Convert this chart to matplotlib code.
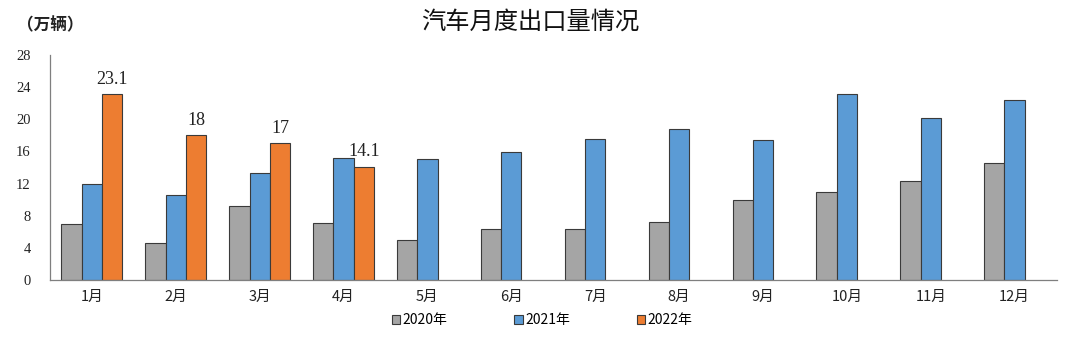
import numpy as np
import matplotlib
matplotlib.use('Agg')
import matplotlib.pyplot as plt

plt.rcParams['font.family'] = ['Noto Sans CJK SC', 'DejaVu Sans']

months = ['1月', '2月', '3月', '4月', '5月', '6月', '7月', '8月', '9月', '10月', '11月', '12月']
exports_2020 = [7.0, 4.6, 9.2, 7.1, 5.0, 6.3, 6.3, 7.2, 10.0, 11.0, 12.3, 14.6]
exports_2021 = [12.0, 10.6, 13.3, 15.2, 15.1, 15.9, 17.5, 18.8, 17.4, 23.2, 20.1, 22.4]
exports_2022 = [23.1, 18, 17, 14.1]
labels_2022 = ['23.1', '18', '17', '14.1']
series_names = ['2020年', '2021年', '2022年']
yticks = [0, 4, 8, 12, 16, 20, 24, 28]

colors = ['#A5A5A5', '#5B9BD5', '#ED7D31']

fig = plt.figure(figsize=(10.8, 3.37), dpi=100)
ax = fig.add_axes([0.0463, 0.169, 0.932, 0.668])

x = np.arange(len(months))
w = 0.242
bars = []
for i, vals in enumerate([exports_2020, exports_2021, exports_2022]):
    xs = x[:len(vals)] + (i - 1) * w
    b = ax.bar(xs, vals, width=w, color=colors[i], edgecolor='#3a3a3a', linewidth=0.8,
               label=series_names[i])
    bars.append(b)

for rect, txt in zip(bars[2], labels_2022):
    ax.text(rect.get_x() + rect.get_width() / 2, rect.get_height() + 0.8, txt,
            ha='center', va='bottom', fontsize=13, family='Liberation Serif', color='#222222')

ax.set_xlim(-0.5, 11.5)
ax.set_ylim(0, 28)
ax.set_yticks(yticks)
ax.set_yticklabels([str(t) for t in yticks], family='Liberation Serif', fontsize=10.5)
ax.set_xticks(x)
ax.set_xticklabels(months, fontsize=10.5)
ax.tick_params(axis='both', length=0, colors='#222222')
ax.tick_params(axis='y', pad=14)
ax.tick_params(axis='x', pad=7)

for s in ['top', 'right']:
    ax.spines[s].set_visible(False)
ax.spines['left'].set_color('#7f7f7f')
ax.spines['bottom'].set_color('#7f7f7f')
ax.spines['left'].set_linewidth(0.9)
ax.spines['bottom'].set_linewidth(0.9)

fig.text(0.491, 0.935, '汽车月度出口量情况', ha='center', va='center', fontsize=17.5,
         fontweight='medium', color='#111111')
fig.text(0.016, 0.925, '（万辆）', ha='left', va='center', fontsize=12,
         fontweight='bold', color='#222222')

fig.legend(loc='center', bbox_to_anchor=(0.502, 0.05), ncol=3, frameon=False, fontsize=10,
           handlelength=0.6, handleheight=0.6, handletextpad=0.2, columnspacing=4.8)

fig.savefig('out.png', dpi=100, facecolor='white')
